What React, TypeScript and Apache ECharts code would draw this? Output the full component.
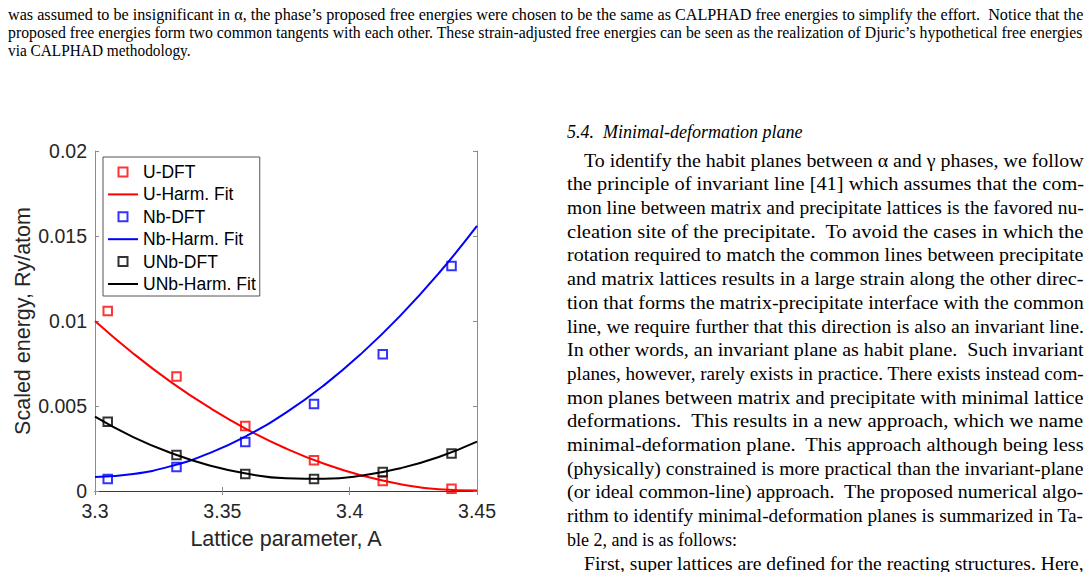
import React, { useEffect, useRef } from "react";
import * as echarts from "echarts";

// ---- Data ----
const dftX = [3.305, 3.332, 3.359, 3.386, 3.413, 3.44];
const uDft = [0.01059, 0.00673, 0.00382, 0.00181, 0.00059, 0.00013];
const nbDft = [0.00071, 0.00141, 0.00288, 0.00512, 0.00804, 0.01324];
const unbDft = [0.00408, 0.00212, 0.001, 0.00071, 0.00112, 0.0022];

const fitX = [3.3, 3.315, 3.33, 3.345, 3.36, 3.375, 3.39, 3.405, 3.42, 3.435, 3.45];
const uFit = [0.01, 0.00809, 0.00639, 0.0049, 0.0036, 0.0025, 0.0016, 0.0009, 0.0004, 0.0001, 0.00003];
const nbFit = [0.00082, 0.001, 0.00147, 0.00223, 0.00328, 0.00461, 0.00623, 0.00814, 0.01033, 0.01281, 0.01559];
const unbFit = [0.00437, 0.00317, 0.00223, 0.0015, 0.00101, 0.00075, 0.00072, 0.00091, 0.00134, 0.002, 0.0029];

const legendNames = ["U-DFT", "U-Harm. Fit", "Nb-DFT", "Nb-Harm. Fit", "UNb-DFT", "UNb-Harm. Fit"];
const legendIsMarker = [true, false, true, false, true, false];
const legendColors = ["#ff0000", "#ff0000", "#0000ff", "#0000ff", "#000000", "#000000"];
const xTicks = ["3.3", "3.35", "3.4", "3.45"];
const yTicks = ["0", "0.005", "0.01", "0.015", "0.02"];

const xName = "Lattice parameter, A";
const yName = "Scaled energy, Ry/atom";

// ---- Surrounding page text ----
const topLines = [
  "was assumed to be insignificant in α, the phase’s proposed free energies were chosen to be the same as CALPHAD free energies to simplify the effort.  Notice that the",
  "proposed free energies form two common tangents with each other. These strain-adjusted free energies can be seen as the realization of Djuric’s hypothetical free energies",
  "via CALPHAD methodology.",
];
const topJustify = [true, true, false];

const heading = "5.4.  Minimal-deformation plane";
const rightLines = [
  "To identify the habit planes between α and γ phases, we follow",
  "the principle of invariant line [41] which assumes that the com-",
  "mon line between matrix and precipitate lattices is the favored nu-",
  "cleation site of the precipitate.  To avoid the cases in which the",
  "rotation required to match the common lines between precipitate",
  "and matrix lattices results in a large strain along the other direc-",
  "tion that forms the matrix-precipitate interface with the common",
  "line, we require further that this direction is also an invariant line.",
  "In other words, an invariant plane as habit plane.  Such invariant",
  "planes, however, rarely exists in practice. There exists instead com-",
  "mon planes between matrix and precipitate with minimal lattice",
  "deformations.  This results in a new approach, which we name",
  "minimal-deformation plane.  This approach although being less",
  "(physically) constrained is more practical than the invariant-plane",
  "(or ideal common-line) approach.  The proposed numerical algo-",
  "rithm to identify minimal-deformation planes is summarized in Ta-",
  "ble 2, and is as follows:",
  "First, super lattices are defined for the reacting structures. Here,",
];
const rightIndent = [true, false, false, false, false, false, false, false, false, false, false, false, false, false, false, false, false, true];
const rightJustify = [true, true, true, true, true, true, true, true, true, true, true, true, true, true, true, true, false, true];

function measure(text: string, font: string): number {
  const c = document.createElement("canvas").getContext("2d");
  if (!c) return 0;
  c.font = font;
  return c.measureText(text).width;
}

const SERIF = "Liberation Serif";
const SANS = "Liberation Sans";

function buildTextGraphics() {
  const els: any[] = [];
  const topSize = 16.5;
  const topFont = `${topSize}px "${SERIF}"`;
  const topY = [14, 32, 50];
  topLines.forEach((t, i) => {
    const w = measure(t, topFont);
    const target = 1084 - 8;
    const sx = topJustify[i] && w > 0 ? target / w : 0.93;
    els.push({
      type: "text",
      x: 8,
      y: topY[i],
      scaleX: sx,
      style: { text: t, fontSize: topSize, fontFamily: SERIF, fill: "#000", verticalAlign: "middle" },
    });
  });
  const rSize = 18;
  const rFont = `${rSize}px "${SERIF}"`;
  els.push({
    type: "text",
    x: 567,
    y: 132,
    style: { text: heading, fontSize: rSize, fontFamily: SERIF, fontStyle: "italic", fill: "#000", verticalAlign: "middle" },
  });
  const y0 = 160.5;
  const dy = 23.7;
  rightLines.forEach((t, i) => {
    const x = rightIndent[i] ? 584 : 567;
    const target = 1084 - x;
    const w = measure(t, rFont);
    const sx = rightJustify[i] && w > 0 ? target / w : 1;
    els.push({
      type: "text",
      x,
      y: y0 + i * dy,
      scaleX: sx,
      style: { text: t, fontSize: rSize, fontFamily: SERIF, fill: "#000", verticalAlign: "middle" },
    });
  });
  return els;
}

const pair = (xs: number[], ys: number[]) => xs.map((x, i) => [x, ys[i]]);

export default function App() {
  const ref = useRef<HTMLDivElement>(null);
  useEffect(() => {
    if (!ref.current) return;
    const chart = echarts.init(ref.current, undefined, { renderer: "svg" });
    const axisColor = "#8c8c8c";
    const labelColor = "#262626";
    const scatter = (name: string, data: number[], color: string) => ({
      name,
      type: "scatter",
      data: pair(dftX, data),
      symbol: "rect",
      symbolSize: 8.5,
      itemStyle: { color: "rgba(255,255,255,0)", borderColor: color, borderWidth: 2 },
      z: 3,
    });
    const line = (name: string, data: number[], color: string) => ({
      name,
      type: "line",
      data: pair(fitX, data),
      smooth: true,
      symbol: "none",
      showSymbol: false,
      lineStyle: { color, width: 2 },
      itemStyle: { color },
      z: 2,
    });
    chart.setOption({
      animation: false,
      backgroundColor: "#fff",
      textStyle: { fontFamily: SANS },
      grid: { left: 95, top: 151, width: 382, height: 340, containLabel: false },
      xAxis: [
        {
          type: "value",
          min: 3.3,
          max: 3.45,
          interval: 0.05,
          position: "bottom",
          axisLine: { show: true, lineStyle: { color: axisColor, width: 1 } },
          axisTick: { show: true, inside: true, length: 4, lineStyle: { color: axisColor } },
          axisLabel: {
            color: labelColor,
            fontSize: 19.5,
            fontFamily: SANS,
            margin: 10,
            formatter: (v: number) => xTicks[Math.round((v - 3.3) / 0.05)] ?? "",
          },
          splitLine: { show: false },
          name: xName,
          nameLocation: "middle",
          nameGap: 37,
          nameTextStyle: { color: labelColor, fontSize: 21.5, fontFamily: SANS },
        },
        {
          type: "value",
          min: 3.3,
          max: 3.45,
          interval: 0.05,
          position: "top",
          axisLine: { show: true, lineStyle: { color: "#3a3a3a", width: 1 } },
          axisTick: { show: true, inside: true, length: 4, lineStyle: { color: axisColor } },
          axisLabel: { show: false },
          splitLine: { show: false },
        },
      ],
      yAxis: [
        {
          type: "value",
          min: 0,
          max: 0.02,
          interval: 0.005,
          position: "left",
          axisLine: { show: true, lineStyle: { color: axisColor, width: 1 } },
          axisTick: { show: true, inside: true, length: 4, lineStyle: { color: axisColor } },
          axisLabel: {
            color: labelColor,
            fontSize: 19.5,
            fontFamily: SANS,
            margin: 8,
            formatter: (v: number) => yTicks[Math.round(v / 0.005)] ?? "",
          },
          splitLine: { show: false },
          name: yName,
          nameLocation: "middle",
          nameGap: 61,
          nameTextStyle: { color: labelColor, fontSize: 21.5, fontFamily: SANS },
        },
        {
          type: "value",
          min: 0,
          max: 0.02,
          interval: 0.005,
          position: "right",
          axisLine: { show: true, lineStyle: { color: axisColor, width: 1 } },
          axisTick: { show: true, inside: true, length: 4, lineStyle: { color: axisColor } },
          axisLabel: { show: false },
          splitLine: { show: false },
        },
      ],
      legend: {
        data: legendNames.map((n, i) =>
          legendIsMarker[i]
            ? {
                name: n,
                icon: "path://M0,0h10v10h-10z",
                itemStyle: { color: "rgba(255,255,255,0)", borderColor: legendColors[i], borderWidth: 2 },
              }
            : { name: n, icon: "path://M0,0h30v2h-30z" }
        ),
        orient: "vertical",
        left: 103,
        top: 157,
        padding: [6, 4, 3, 5],
        itemWidth: 30,
        itemHeight: 9,
        itemGap: 4.4,
        symbolKeepAspect: true,
        backgroundColor: "#fff",
        borderColor: "#555",
        borderWidth: 1,
        borderRadius: 0,
        textStyle: { color: "#000", fontSize: 17.5, fontFamily: SANS, lineHeight: 18 },
        selectedMode: false,
      },
      graphic: buildTextGraphics(),
      series: [
        line(legendNames[1], uFit, "#ff0000"),
        line(legendNames[3], nbFit, "#0000ff"),
        line(legendNames[5], unbFit, "#000000"),
        scatter(legendNames[0], uDft, "#ff0000"),
        scatter(legendNames[2], nbDft, "#0000ff"),
        scatter(legendNames[4], unbDft, "#000000"),
      ],
    });
    return () => chart.dispose();
  }, []);
  return <div ref={ref} style={{ position: "fixed", left: 0, top: 0, width: 1092, height: 572 }} />;
}
